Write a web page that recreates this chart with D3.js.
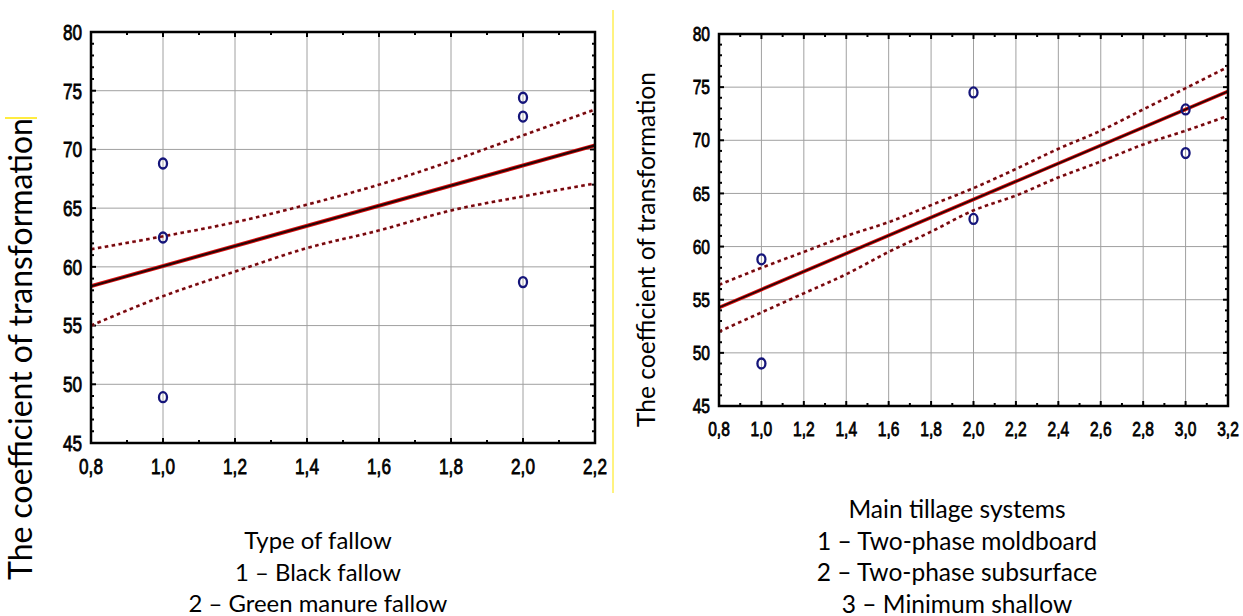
<!DOCTYPE html>
<meta charset="utf-8">
<script src="https://d3js.org/d3.v7.min.js"></script>
<style>
  body { margin: 0; background: #fff; }
</style>
<div id="my_dataviz"></div>

<script>
// ---- data ----
// left panel: type of fallow
var fallowX = [1, 1, 1, 2, 2, 2];
var fallowY = [68.8, 62.5, 48.9, 74.4, 72.8, 58.7];
var fallowBandX = [0.8, 1.0, 1.2, 1.4, 1.6, 1.8, 2.0, 2.2];
var fallowUpper = [61.5, 62.6, 63.8, 65.3, 67.0, 69.0, 71.2, 73.4];
var fallowLower = [55.0, 57.5, 59.6, 61.6, 63.1, 64.8, 66.0, 67.1];
var fallowXTicks = [0.8, 1.0, 1.2, 1.4, 1.6, 1.8, 2.0, 2.2];
var fallowCaption = ["Type of fallow", "1 – Black fallow", "2 – Green manure fallow"];

// right panel: main tillage systems
var tillageX = [1, 1, 2, 2, 3, 3];
var tillageY = [58.8, 49.0, 74.5, 62.6, 72.9, 68.8];
var tillageBandX = [0.8, 1.0, 1.2, 1.4, 1.6, 1.8, 2.0, 2.2, 2.4, 2.6, 2.8, 3.0, 3.2];
var tillageUpper = [56.4, 58.0, 59.5, 61.0, 62.3, 63.9, 65.5, 67.3, 69.2, 70.9, 72.9, 74.9, 76.9];
var tillageLower = [52.0, 53.8, 55.6, 57.4, 59.5, 61.4, 63.4, 64.8, 66.5, 68.0, 69.6, 70.9, 72.3];
var tillageXTicks = [0.8, 1.0, 1.2, 1.4, 1.6, 1.8, 2.0, 2.2, 2.4, 2.6, 2.8, 3.0, 3.2];
var tillageCaption = ["Main tillage systems", "1 – Two-phase moldboard", "2 – Two-phase subsurface", "3 – Minimum shallow"];

var yTicks = [45, 50, 55, 60, 65, 70, 75, 80];
var yTitle = "The coefficient of transformation";

var W = 1243, H = 616;
var svg = d3.select("#my_dataviz").append("svg")
  .attr("width", W).attr("height", H)
  .style("display", "block");

// narrow statistica-like digits: Liberation Sans squeezed sideways
var tickFont = "'Liberation Sans', Arial, sans-serif";
var squeeze = 0.78;
var textFont = "Lato, 'Open Sans', sans-serif";
var comma = function(v) { return d3.format(".1f")(v).replace(".", ","); };

// shrink/grow a text to a wanted width
function fitText(sel, target) {
  var fs = parseFloat(sel.style("font-size"));
  var w = sel.node().getComputedTextLength();
  sel.style("font-size", (fs * target / w) + "px");
  return fs * target / w;
}

function drawPanel(p) {
  var x = d3.scaleLinear().domain(p.xDomain).range([p.left, p.right]);
  var y = d3.scaleLinear().domain([45, 80]).range([p.bottom, p.top]);
  var g = svg.append("g");

  // grid
  g.selectAll(".gx").data(p.xTicks.slice(1, -1)).enter().append("line")
    .attr("x1", d => x(d)).attr("x2", d => x(d))
    .attr("y1", p.top).attr("y2", p.bottom)
    .attr("stroke", "#a0a0a0").attr("stroke-width", 1);
  g.selectAll(".gy").data(yTicks.slice(1, -1)).enter().append("line")
    .attr("x1", p.left).attr("x2", p.right)
    .attr("y1", d => y(d)).attr("y2", d => y(d))
    .attr("stroke", "#a0a0a0").attr("stroke-width", 1);

  // inward ticks on all four sides
  var xMinor = d3.range(p.xDomain[0], p.xDomain[1] + 0.001, 0.1);
  var yMinor = d3.range(45, 80.001, 1);
  [p.bottom, p.top].forEach(function(edge) {
    var dir = edge === p.bottom ? -1 : 1;
    g.selectAll(null).data(xMinor).enter().append("line")
      .attr("x1", d => x(d)).attr("x2", d => x(d))
      .attr("y1", edge).attr("y2", (d, i) => edge + dir * (i % 2 === 0 ? 5 : 3))
      .attr("stroke", "#000").attr("stroke-width", 2);
  });
  [p.left, p.right].forEach(function(edge) {
    var dir = edge === p.left ? 1 : -1;
    g.selectAll(null).data(yMinor).enter().append("line")
      .attr("y1", d => y(d)).attr("y2", d => y(d))
      .attr("x1", edge).attr("x2", (d, i) => edge + dir * (i % 5 === 0 ? 5 : 3))
      .attr("stroke", "#000").attr("stroke-width", 2);
  });

  // confidence bands
  var band = d3.line().curve(d3.curveMonotoneX)
    .x(d => x(d[0])).y(d => y(d[1]));
  [p.upper, p.lower].forEach(function(vals) {
    var pts = p.bandX.map((v, i) => [v, vals[i]]);
    g.append("path").attr("d", band(pts))
      .attr("fill", "none").attr("stroke", "#ff6b8a").attr("stroke-width", 3.2)
      .attr("stroke-dasharray", "3.5,3.5").attr("opacity", 0.6);
    g.append("path").attr("d", band(pts))
      .attr("fill", "none").attr("stroke", "#6e0b0b").attr("stroke-width", 2.4)
      .attr("stroke-dasharray", "3.5,3.5");
  });

  // least squares fit of the points
  var mx = d3.mean(p.xs), my = d3.mean(p.ys);
  var sxy = d3.sum(p.xs, (v, i) => (v - mx) * (p.ys[i] - my));
  var sxx = d3.sum(p.xs, v => (v - mx) * (v - mx));
  var b = sxy / sxx, a = my - b * mx;
  var fit = p.xDomain.map(v => [v, a + b * v]);
  var ln = d3.line().x(d => x(d[0])).y(d => y(d[1]));
  g.append("path").attr("d", ln(fit))
    .attr("fill", "none").attr("stroke", "#e01010").attr("stroke-width", p.fitWidth + 1);
  g.append("path").attr("d", ln(fit))
    .attr("fill", "none").attr("stroke", "#2a0505").attr("stroke-width", p.fitWidth - 0.8);

  // points
  g.selectAll(null).data(p.xs).enter().append("ellipse")
    .attr("cx", d => x(d)).attr("cy", (d, i) => y(p.ys[i]))
    .attr("rx", p.rx).attr("ry", p.ry)
    .attr("fill", "none").attr("stroke", "#15157a").attr("stroke-width", 2.3);

  // frame
  g.append("rect")
    .attr("x", p.left).attr("y", p.top)
    .attr("width", p.right - p.left).attr("height", p.bottom - p.top)
    .attr("fill", "none").attr("stroke", "#000").attr("stroke-width", 2.5);

  // tick labels
  g.selectAll(null).data(p.xTicks).enter().append("text")
    .attr("transform", d => "translate(" + x(d) + "," + p.xLabelY + ") scale(" + squeeze + ",1)")
    .attr("text-anchor", "middle")
    .style("font-family", tickFont).style("font-size", p.tickSize + "px")
    .attr("stroke", "#000").attr("stroke-width", 0.8)
    .text(comma);
  g.selectAll(null).data(yTicks).enter().append("text")
    .attr("transform", d => "translate(" + (p.left - p.yLabelGap) + "," + y(d) + ") scale(" + squeeze + ",1)")
    .attr("dy", "0.36em")
    .attr("text-anchor", "end")
    .style("font-family", tickFont).style("font-size", p.tickSize + "px")
    .attr("stroke", "#000").attr("stroke-width", 0.8)
    .text(d => d);

  // y title
  var t = g.append("text")
    .attr("transform", "translate(" + p.titleX + "," + p.titleY + ") rotate(-90)")
    .attr("text-anchor", "middle")
    .style("font-family", textFont).style("font-size", "24px")
    .text(yTitle);
  fitText(t, p.titleLen);

  // caption under the plot
  var caps = g.selectAll(null).data(p.caption).enter().append("text")
    .attr("x", p.capX).attr("y", (d, i) => p.capY + i * 31.5)
    .attr("text-anchor", "middle")
    .style("font-family", textFont).style("font-size", "22px")
    .text(d => d);
  var ref = caps.filter((d, i) => i === 1);
  var fs = fitText(ref, p.capRefWidth);
  caps.style("font-size", fs + "px");
}

drawPanel({
  xs: fallowX, ys: fallowY, bandX: fallowBandX, upper: fallowUpper, lower: fallowLower,
  xTicks: fallowXTicks, xDomain: [0.8, 2.2], caption: fallowCaption,
  left: 91, right: 595, top: 32, bottom: 443,
  xLabelY: 474, yLabelGap: 9, fitWidth: 3, rx: 4, ry: 5, tickSize: 22,
  titleX: 32, titleY: 349, titleLen: 462,
  capX: 318, capY: 549, capRefWidth: 166
});

drawPanel({
  xs: tillageX, ys: tillageY, bandX: tillageBandX, upper: tillageUpper, lower: tillageLower,
  xTicks: tillageXTicks, xDomain: [0.8, 3.2], caption: tillageCaption,
  left: 719, right: 1228, top: 34, bottom: 406,
  xLabelY: 436, yLabelGap: 9, fitWidth: 2.6, rx: 4, ry: 5, tickSize: 20,
  titleX: 655, titleY: 249.5, titleLen: 355,
  capX: 957, capY: 518, capRefWidth: 280
});

// stray yellow marks from the source scan
svg.append("line").attr("x1", 5).attr("x2", 37).attr("y1", 118).attr("y2", 118)
  .attr("stroke", "#ffe600").attr("stroke-width", 1.5);
svg.append("line").attr("x1", 613).attr("x2", 613).attr("y1", 10).attr("y2", 493)
  .attr("stroke", "#ffe600").attr("stroke-width", 1);
</script>
